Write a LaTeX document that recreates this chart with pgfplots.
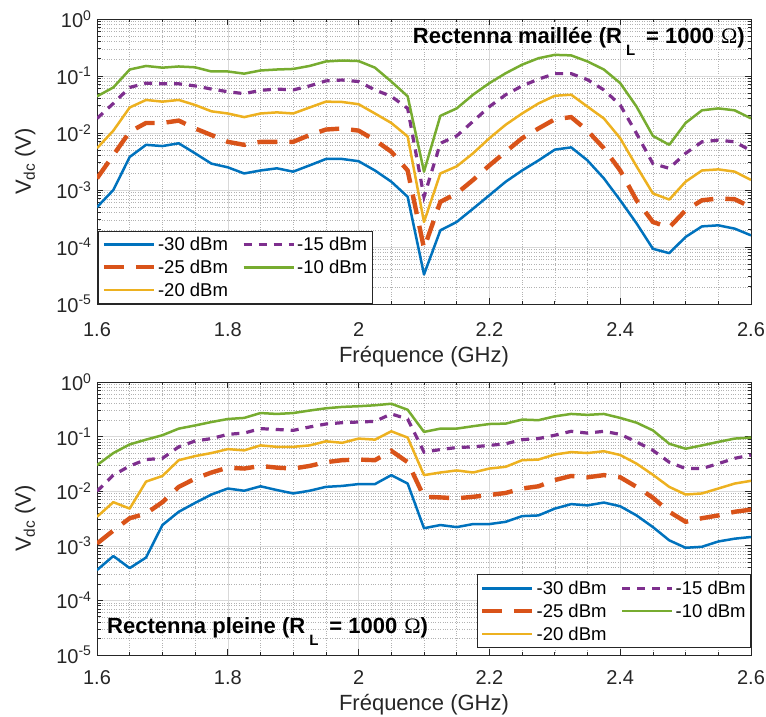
\documentclass[border=0pt]{standalone}
\usepackage{pgfplots}
\pgfplotsset{compat=1.18}
\usepackage{pgfplotstable}
\usepackage{fontspec}
\setmainfont{Liberation Sans}
\newfontfamily\serifomega{Liberation Serif}
\definecolor{mblue}{rgb}{0,0.447,0.741}
\definecolor{morange}{rgb}{0.85,0.325,0.098}
\definecolor{myellow}{rgb}{0.929,0.694,0.125}
\definecolor{mpurple}{rgb}{0.494,0.184,0.556}
\definecolor{mgreen}{rgb}{0.466,0.674,0.188}

\pgfplotstableread{
f a b c d e
1.600 5.0e-4 1.6e-3 5.4e-3 1.8e-2 4.4e-2
1.625 1.0e-3 4.1e-3 1.1e-2 3.3e-2 6.3e-2
1.650 3.8e-3 1.05e-2 2.8e-2 6.3e-2 1.3e-1
1.675 6.2e-3 1.5e-2 3.8e-2 7.5e-2 1.5e-1
1.700 5.9e-3 1.5e-2 3.55e-2 7.3e-2 1.4e-1
1.725 6.6e-3 1.65e-2 3.8e-2 7.3e-2 1.47e-1
1.750 4.4e-3 1.2e-2 3.1e-2 6.7e-2 1.42e-1
1.775 2.9e-3 9.2e-3 2.4e-2 5.9e-2 1.2e-1
1.800 2.5e-3 7.0e-3 2.2e-2 5.3e-2 1.2e-1
1.825 1.95e-3 6.2e-3 1.9e-2 4.9e-2 1.1e-1
1.850 2.2e-3 7.0e-3 2.2e-2 5.6e-2 1.25e-1
1.875 2.4e-3 7.0e-3 2.3e-2 5.9e-2 1.3e-1
1.900 2.1e-3 7.0e-3 2.2e-2 5.7e-2 1.33e-1
1.925 2.7e-3 9.2e-3 2.8e-2 6.7e-2 1.5e-1
1.950 3.5e-3 1.15e-2 3.55e-2 8.2e-2 1.8e-1
1.975 3.5e-3 1.2e-2 3.5e-2 8.5e-2 1.87e-1
2.000 3.2e-3 1.1e-2 3.2e-2 8.0e-2 1.83e-1
2.025 2.2e-3 7.5e-3 2.2e-2 5.7e-2 1.4e-1
2.050 1.4e-3 4.7e-3 1.5e-2 4.4e-2 8.0e-2
2.075 7.6e-4 2.2e-3 8.7e-3 2.7e-2 4.4e-2
2.100 3.3e-5 9.5e-5 2.75e-4 7.6e-4 2.1e-3
2.125 1.96e-4 6.2e-4 1.95e-3 6.6e-3 2.0e-2
2.150 2.75e-4 8.7e-4 2.6e-3 8.9e-3 2.7e-2
2.175 4.7e-4 1.5e-3 4.4e-3 1.6e-2 4.7e-2
2.200 8.1e-4 2.7e-3 8.1e-3 2.9e-2 7.5e-2
2.225 1.4e-3 4.7e-3 1.4e-2 4.7e-2 1.12e-1
2.250 2.2e-3 8.1e-3 2.2e-2 6.7e-2 1.58e-1
2.275 3.3e-3 1.2e-2 3.3e-2 8.8e-2 2.05e-1
2.300 5.1e-3 1.74e-2 4.5e-2 1.1e-1 2.35e-1
2.325 5.6e-3 1.9e-2 4.7e-2 1.1e-1 2.3e-1
2.350 3.3e-3 1.1e-2 2.9e-2 8.6e-2 1.8e-1
2.375 1.6e-3 5.4e-3 1.8e-2 5.7e-2 1.3e-1
2.400 6.6e-4 2.2e-3 8.1e-3 3.1e-2 7.5e-2
2.425 2.6e-4 6.6e-4 2.6e-3 9.8e-3 2.9e-2
2.450 9.3e-5 2.75e-4 8.7e-4 2.9e-3 8.9e-3
2.475 7.8e-5 2.2e-4 6.8e-4 2.4e-3 6.2e-3
2.500 1.5e-4 4.4e-4 1.4e-3 4.4e-3 1.5e-2
2.525 2.3e-4 6.6e-4 2.2e-3 7.0e-3 2.5e-2
2.550 2.4e-4 7.1e-4 2.3e-3 7.5e-3 2.7e-2
2.575 2.1e-4 6.9e-4 2.1e-3 7.0e-3 2.5e-2
2.600 1.6e-4 5.0e-4 1.5e-3 4.9e-3 1.8e-2
}\topdata

\pgfplotstableread{
f a b c d e
1.600 3.6e-4 1.1e-3 3.4e-3 1.0e-2 3.0e-2
1.625 6.5e-4 1.9e-3 6.3e-3 1.97e-2 5.0e-2
1.650 3.9e-4 3.2e-3 4.8e-3 2.9e-2 7.2e-2
1.675 6.1e-4 3.9e-3 1.5e-2 3.8e-2 8.8e-2
1.700 2.4e-3 6.3e-3 1.9e-2 4.0e-2 1.06e-1
1.725 4.2e-3 1.2e-2 3.7e-2 6.5e-2 1.4e-1
1.750 6.1e-3 1.7e-2 4.4e-2 8.3e-2 1.6e-1
1.775 8.7e-3 2.2e-2 5.0e-2 9.2e-2 1.85e-1
1.800 1.12e-2 2.7e-2 5.9e-2 1.1e-1 2.1e-1
1.825 1.02e-2 2.6e-2 5.6e-2 1.16e-1 2.2e-1
1.850 1.23e-2 2.9e-2 6.9e-2 1.4e-1 2.7e-1
1.875 1.05e-2 2.7e-2 6.5e-2 1.35e-1 2.6e-1
1.900 9.1e-3 2.6e-2 6.5e-2 1.3e-1 2.7e-1
1.925 1.02e-2 2.9e-2 6.9e-2 1.5e-1 3.0e-1
1.950 1.2e-2 3.4e-2 8.2e-2 1.7e-1 3.3e-1
1.975 1.25e-2 3.7e-2 7.7e-2 1.8e-1 3.5e-1
2.000 1.35e-2 3.8e-2 9.2e-2 1.85e-1 3.6e-1
2.025 1.35e-2 3.7e-2 8.8e-2 1.9e-1 3.75e-1
2.050 1.97e-2 5.5e-2 1.25e-1 2.6e-1 4.0e-1
2.075 1.38e-2 3.4e-2 9.6e-2 2.1e-1 3.1e-1
2.100 2.1e-3 7.9e-3 1.97e-2 5.2e-2 1.22e-1
2.125 2.4e-3 7.7e-3 2.2e-2 5.8e-2 1.4e-1
2.150 2.2e-3 7.4e-3 2.4e-2 6.3e-2 1.4e-1
2.175 2.5e-3 7.9e-3 2.2e-2 6.5e-2 1.55e-1
2.200 2.5e-3 8.5e-3 2.6e-2 6.9e-2 1.7e-1
2.225 2.75e-3 9.3e-3 2.8e-2 7.4e-2 1.73e-1
2.250 3.5e-3 1.12e-2 3.7e-2 8.8e-2 2.05e-1
2.275 3.6e-3 1.23e-2 3.8e-2 9.2e-2 2.0e-1
2.300 4.8e-3 1.6e-2 4.7e-2 1.06e-1 2.35e-1
2.325 5.8e-3 1.9e-2 5.2e-2 1.25e-1 2.6e-1
2.350 5.5e-3 1.8e-2 5.0e-2 1.16e-1 2.5e-1
2.375 6.2e-3 1.97e-2 5.4e-2 1.25e-1 2.6e-1
2.400 5.3e-3 1.8e-2 4.6e-2 1.1e-1 2.2e-1
2.425 3.6e-3 1.2e-2 3.2e-2 8.0e-2 1.8e-1
2.450 2.2e-3 7.6e-3 2.0e-2 5.6e-2 1.3e-1
2.475 1.26e-3 4.2e-3 1.2e-2 3.4e-2 7.4e-2
2.500 9.2e-4 2.75e-3 8.7e-3 2.6e-2 6.0e-2
2.525 9.6e-4 3.2e-3 9.1e-3 2.6e-2 6.9e-2
2.550 1.2e-3 3.6e-3 1.12e-2 3.2e-2 8.0e-2
2.575 1.35e-3 4.2e-3 1.38e-2 4.0e-2 9.2e-2
2.600 1.45e-3 4.6e-3 1.55e-2 4.6e-2 9.6e-2
}\botdata

\tikzset{
  sA/.style={color=mblue, line width=2.5pt, line join=round},
  sB/.style={color=morange, line width=4.4pt, dash pattern=on 20pt off 12pt},
  sC/.style={color=myellow, line width=2.5pt, line join=round},
  sD/.style={color=mpurple, line width=3.2pt, dash pattern=on 8pt off 7pt},
  sE/.style={color=mgreen, line width=2.5pt, line join=round},
}
\newcommand{\omegasym}{{\serifomega\mdseries Ω}}
\newcommand{\subL}{\hspace{4pt}\raisebox{-12pt}{\fontsize{15}{15}\selectfont\bfseries L}\hspace{11pt}}

\pgfplotsset{
  myax/.style={
    scale only axis, width=654pt,
    xmin=1.6, xmax=2.6, ymin=1e-5, ymax=1,
    xtick={1.6,1.8,2,2.2,2.4,2.6},
    xticklabels={1.6,1.8,2,2.2,2.4,2.6},
    minor x tick num=3,
    ytickten={-5,-4,-3,-2,-1,0},
    yticklabel={\pgfmathtruncatemacro\ee{round(\tick/2.302585093)}10\textsuperscript{\ee}},
    grid=both,
    major grid style={color=black!15, line width=0.6pt},
    minor grid style={color=black!30, dotted, line width=0.6pt},
    axis line style={color=black!85, line width=0.8pt},
    tick style={color=black!85, line width=0.7pt},
    major tick length=6pt, minor tick length=3.5pt,
    tick align=inside,
    tick label style={font=\fontsize{20}{24}\selectfont, color=black!85},
    label style={font=\fontsize{22}{26}\selectfont, color=black!85},
    xlabel={Fréquence (GHz)},
    ylabel={V\textsubscript{dc} (V)},
    ylabel style={at={(axis description cs:-0.110,0.5)}, anchor=center},
    yticklabel style={xshift=-2pt},
    legend columns=2,
    legend cell align=left,
    legend style={font=\fontsize{18.5}{22}\selectfont, draw=black!85, line width=0.7pt,
      fill=white, inner xsep=3pt, inner ysep=4pt, row sep=4pt,
      /tikz/every even column/.append style={column sep=12pt}},
  },
  legend image code/.code={\draw[#1] (0pt,0pt) -- (50pt,0pt);},
}

\begin{document}
\begin{tikzpicture}[x=1pt,y=1pt]
\path[use as bounding box] (0,0) rectangle (766,716);

\begin{semilogyaxis}[myax, at={(97pt,412pt)}, anchor=south west, height=285pt,
  xlabel style={at={(axis description cs:0.5,-0.207)}, anchor=base},
  xticklabel style={anchor=center, yshift=-26pt},
  legend style={at={(rel axis cs:0.002,0.0)}, anchor=south west}]
\addplot[sA, forget plot] table[x=f,y=a]{\topdata};
\addplot[sB, forget plot] table[x=f,y=b]{\topdata};
\addplot[sC, forget plot] table[x=f,y=c]{\topdata};
\addplot[sD, forget plot] table[x=f,y=d]{\topdata};
\addplot[sE, forget plot] table[x=f,y=e]{\topdata};
\addlegendimage{sA}\addlegendentry{-30 dBm}
\addlegendimage{sD}\addlegendentry{-15 dBm}
\addlegendimage{sB}\addlegendentry{-25 dBm}
\addlegendimage{sE}\addlegendentry{-10 dBm}
\addlegendimage{sC}\addlegendentry{-20 dBm}
\node[anchor=base east, inner sep=0pt, font=\fontsize{22}{26}\selectfont\bfseries]
  at (rel axis cs:0.9908,0.9155)
  {Rectenna maillée (R\subL= 1000\hspace{7pt}\omegasym)};
\end{semilogyaxis}

\begin{semilogyaxis}[myax, at={(97pt,61pt)}, anchor=south west, height=273pt,
  xlabel style={at={(axis description cs:0.5,-0.205)}, anchor=base},
  xticklabel style={anchor=center, yshift=-23pt},
  legend style={at={(rel axis cs:1.0,0.026)}, anchor=south east}]
\addplot[sA, forget plot] table[x=f,y=a]{\botdata};
\addplot[sB, forget plot] table[x=f,y=b]{\botdata};
\addplot[sC, forget plot] table[x=f,y=c]{\botdata};
\addplot[sD, forget plot] table[x=f,y=d]{\botdata};
\addplot[sE, forget plot] table[x=f,y=e]{\botdata};
\addlegendimage{sA}\addlegendentry{-30 dBm}
\addlegendimage{sD}\addlegendentry{-15 dBm}
\addlegendimage{sB}\addlegendentry{-25 dBm}
\addlegendimage{sE}\addlegendentry{-10 dBm}
\addlegendimage{sC}\addlegendentry{-20 dBm}
\node[anchor=base west, inner sep=0pt, font=\fontsize{22}{26}\selectfont\bfseries]
  at (rel axis cs:0.0153,0.0806)
  {Rectenna pleine (R\subL= 1000\hspace{7pt}\omegasym)};
\end{semilogyaxis}
\end{tikzpicture}
\end{document}
